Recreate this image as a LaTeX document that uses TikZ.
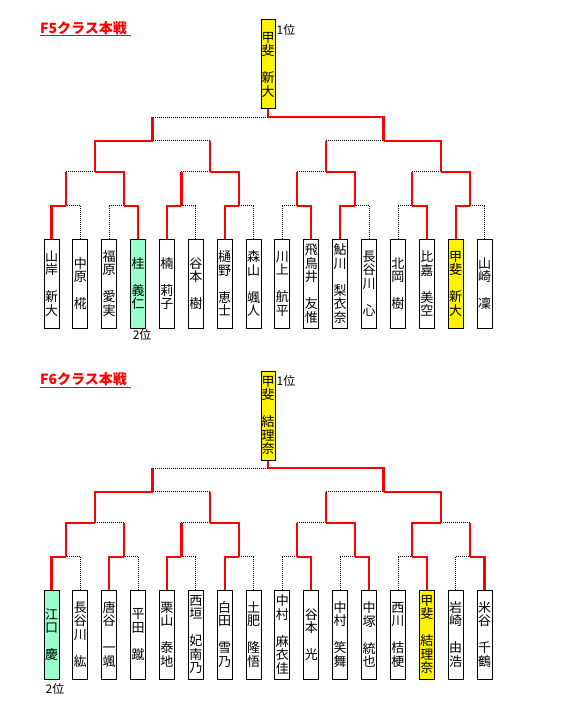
\documentclass[tikz,border=0pt]{standalone}
\usepackage{fontspec}
\setmainfont{Noto Sans CJK JP}
\usetikzlibrary{positioning, calc}
\definecolor{mint}{HTML}{99FFCC}
% stack the characters of a name one below the other
\ExplSyntaxOn
\seq_new:N \l_tate_seq
\tl_new:N \l_tate_tl
\NewDocumentCommand{\tatename}{m}
  {
    \tl_set:Nx \l_tate_tl {#1}
    \seq_clear:N \l_tate_seq
    \tl_map_inline:Nn \l_tate_tl { \seq_put_right:Nn \l_tate_seq {##1} }
    \seq_use:Nn \l_tate_seq { \\ }
  }
\ExplSyntaxOff
\tikzset{
  player/.style={draw, line width=1pt, fill=white, minimum width=15pt, minimum height=89pt, inner sep=0pt, align=center, font=\fontsize{13}{13.5}\selectfont},
  champ/.style={player, minimum width=14pt, fill=yellow},
  win/.style={red, line width=2.2pt},
  lose/.style={black, line width=0.8pt, dash pattern=on 1pt off 1pt},
  headline/.style={red, anchor=base west, inner sep=0pt, font=\fontsize{14}{14}\selectfont\bfseries},
  headrule/.style={red, line width=1pt},
  rank/.style={inner sep=0pt, font=\fontsize{12}{12}\selectfont}
}
% winner, loser, parent, style of the loser's rise
\newcommand{\bout}[4]{%
  \draw[#4] (#2) -- (#2 |- #3);
  \draw[lose] (#2 |- #3) -- (#3);
  \draw[win] (#1) |- (#3);
}

\begin{document}
\begin{tikzpicture}[x=1pt, y=-1pt]
  \useasboundingbox (0,0) rectangle (570,714);

  % F5
  \node[headline] (t5) at (40,33.5) {F5クラス本戦};
  \draw[headrule] ([yshift=-2.5pt]t5.base west) -- ++(91,0);
  \foreach \nm/\col [count=\i] in {山岸　新大/white, 中原　椛/white, 福原　愛実/white, 桂　義仁/mint,
      楠　莉子/white, 谷本　樹/white, 樋野　恵士/white, 森山　颯人/white,
      川上　航平/white, 飛鳥井　友惟/white, 鮎川　梨衣奈/white, 長谷川　心/white,
      北岡　樹/white, 比嘉　美空/white, 甲斐　新大/yellow, 山崎　凜/white}
    \node[player, fill=\col] (a\i) at ({51.5+28.87*(\i-1)},283.5) {\tatename{\nm}};
  \foreach \k in {1,...,8} \coordinate (am\k) at ({51.5+28.87*(2*\k-1.5)},205.7);
  \foreach \k in {1,...,4} \coordinate (ar\k) at ({51.5+28.87*(4*\k-2.5)},171.7);
  \foreach \k in {1,2} \coordinate (as\k) at ({51.5+28.87*(8*\k-4.5)},140.7);
  \coordinate (af) at (268,117);
  \node[champ] (c5) at (268,64.5) {\tatename{甲斐　新大}};
  \node[rank] (w5) at (286,30) {1位};
  \node[rank] (v5) at ([xshift=4pt, yshift=-6pt]a4.south) {2位};

  \bout{a1.north}{a2.north}{am1}{lose}
  \bout{a4.north}{a3.north}{am2}{lose}
  \bout{a5.north}{a6.north}{am3}{lose}
  \bout{a7.north}{a8.north}{am4}{lose}
  \bout{a10.north}{a9.north}{am5}{lose}
  \bout{a11.north}{a12.north}{am6}{lose}
  \bout{a14.north}{a13.north}{am7}{lose}
  \bout{a15.north}{a16.north}{am8}{lose}
  \bout{am2}{am1}{ar1}{win}
  \bout{am4}{am3}{ar2}{win}
  \bout{am6}{am5}{ar3}{win}
  \bout{am8}{am7}{ar4}{win}
  \bout{ar1}{ar2}{as1}{win}
  \bout{ar4}{ar3}{as2}{win}
  \bout{as2}{as1}{af}{win}
  \draw[win] (af) -- (c5.south);

  % F6
  \node[headline] (t6) at (40,384.5) {F6クラス本戦};
  \draw[headrule] ([yshift=-2.5pt]t6.base west) -- ++(91,0);
  \foreach \nm/\col [count=\i] in {江口　慶/mint, 長谷川　紘/white, 唐谷　一颯/white, 平田　蹴/white,
      栗山　泰地/white, 西垣　妃南乃/white, 白田　雪乃/white, 土肥　隆悟/white,
      中村　麻衣佳/white, 谷本　光/white, 中村　笑舞/white, 中塚　統也/white,
      西川　桔梗/white, 甲斐　結理奈/yellow, 岩崎　由浩/white, 米谷　千鶴/white}
    \node[player, fill=\col] (b\i) at ({51.5+28.87*(\i-1)},634.5) {\tatename{\nm}};
  \foreach \k in {1,...,8} \coordinate (bm\k) at ({51.5+28.87*(2*\k-1.5)},556.7);
  \foreach \k in {1,...,4} \coordinate (br\k) at ({51.5+28.87*(4*\k-2.5)},522.7);
  \foreach \k in {1,2} \coordinate (bs\k) at ({51.5+28.87*(8*\k-4.5)},491.7);
  \coordinate (bf) at (268,468);
  \node[champ] (c6) at (268,415.5) {\tatename{甲斐　結理奈}};
  \node[rank] (w6) at (286,381) {1位};
  \node[rank] (v6) at ([xshift=3.5pt, yshift=-9.5pt]b1.south) {2位};

  \bout{b1.north}{b2.north}{bm1}{lose}
  \bout{b3.north}{b4.north}{bm2}{lose}
  \bout{b5.north}{b6.north}{bm3}{lose}
  \bout{b7.north}{b8.north}{bm4}{lose}
  \bout{b10.north}{b9.north}{bm5}{lose}
  \bout{b12.north}{b11.north}{bm6}{lose}
  \bout{b14.north}{b13.north}{bm7}{lose}
  \bout{b16.north}{b15.north}{bm8}{lose}
  \bout{bm1}{bm2}{br1}{win}
  \bout{bm4}{bm3}{br2}{win}
  \bout{bm6}{bm5}{br3}{win}
  \bout{bm7}{bm8}{br4}{win}
  \bout{br1}{br2}{bs1}{win}
  \bout{br4}{br3}{bs2}{win}
  \bout{bs2}{bs1}{bf}{win}
  \draw[win] (bf) -- (c6.south);
\end{tikzpicture}
\end{document}
